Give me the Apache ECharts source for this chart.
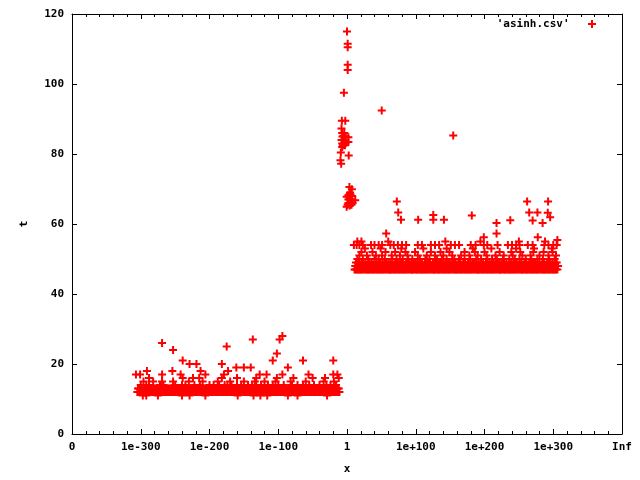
<!DOCTYPE html>
<html><head><meta charset="utf-8">
<script src="https://cdn.jsdelivr.net/npm/echarts@6/dist/echarts.min.js"></script>
<style>html,body{margin:0;padding:0;background:#fff}#c{width:640px;height:480px}</style>
</head><body><div id="c"></div>
<script>
// x tick labels (one labelled step = 100 axis-position units)
const xTickLabels = ['0','1e-300','1e-200','1e-100','1','1e+100','1e+200','1e+300','Inf'];
const seriesName = "'asinh.csv'";

// ---- low cluster (tiny arguments), x positions per t value ----
const lowT11 = [103,108,125,160,171,194,241,264,274,284,314,328,371];
const lowT12 = [95,96.5,98,100,102,103.5,105,107,109,111,113,114.5,116,117.5,119,121,123,125,127,128.5,130,132,134,135.5,137,139,141,143,145,146.5,148,149.5,151,153,155,157,159,160.5,162,164,166,167.5,169,171,173,175,177,178.5,180,181.5,183,185,187,189,191,192.5,194,196,198,199.5,201,203,205,207,209,210.5,212,213.5,215,217,219,221,223,224.5,226,228,230,231.5,233,235,237,239,241,242.5,244,245.5,247,249,251,253,255,256.5,258,260,262,263.5,265,267,269,271,273,274.5,276,277.5,279,281,283,285,287,288.5,290,292,294,295.5,297,299,301,303,305,306.5,308,309.5,311,313,315,317,319,320.5,322,324,326,327.5,329,331,333,335,337,338.5,340,341.5,343,345,347,349,351,352.5,354,356,358,359.5,361,363,365,367,369,370.5,372,373.5,375,377,379,381,383,384.5,386,387.5,389];
const lowT13 = [96,97.5,100,101.5,104,105.5,107,109,111,112.5,114,116,118,119.5,121,123,125,127,129,130.5,132,134,136,137.5,139,141,143,144.5,146,148,150,151.5,153,155,157,159,161,162.5,164,166,168,169.5,171,173,175,176.5,178,180,182,183.5,185,187,189,191,193,194.5,196,198,200,201.5,203,205,207,208.5,210,212,214,215.5,217,219,221,223,225,226.5,228,230,232,233.5,235,237,239,240.5,242,244,246,247.5,249,251,253,255,257,258.5,260,262,264,265.5,267,269,271,272.5,274,276,278,279.5,281,283,285,287,289,290.5,292,294,296,297.5,299,301,303,304.5,306,308,310,311.5,313,315,317,319,321,322.5,324,326,328,329.5,331,333,335,336.5,338,340,342,343.5,345,347,349,351,353,354.5,356,358,360,361.5,363,365,367,368.5,370,372,374,375.5,377,379,381,383,385,386.5,388];
const lowT14 = [100,108,112,128,133,150,160,165,178,186,200,206,214,222,226,232,240,246,256,262,268,275,285,292,300,308,320,328,336,345,352,360,370,376,384];
const lowT15 = [104,118,131,147,170,190,212,230,250,266,280,296,318,340,366,381];
const lowT16 = [112,161,176,185,218,240,268,298,322,350,368,388];
const lowT17 = [93,99,131,158,194,221,273,283,306,344,380,386];
const lowOutliers = [[109,18],[131,26],[147,24],[146,18],[161,21],[171,20],[181,20],[187,18],[218,20],[225,25],[227,18],[239,19],[250,19],[260,19],[263,27],[292,21],[298,23],[302,27],[306,28],[314,19],[336,21],[380,21]];

// ---- arguments near 1 ----
const nearOneUpper = [[400,115],[401,111.5],[401,110.5],[401,105.5],[401,104],[395.5,97.5],[392.5,89.5],[397.5,89.5],[392,87.3],[393,86],[396,86],[393.5,85],[395,85.2],[398,85],[402,84.8],[392,84],[394,84],[397,84],[393,83],[396,83],[398,83.2],[402,83.4],[394,82.5],[397,82.5],[393,82],[391,80.4],[402.5,79.6],[390.5,78.2],[391.5,77.2]];
const nearOneLower = [[403.5,70.6],[407,69.9],[404.5,69],[402,68.2],[405,68.5],[407.5,68],[399.5,67.8],[402,67],[404,67.2],[406,67],[412,66.8],[402,66],[405,66.2],[408,66],[401,65.5],[404,65.3],[406.5,65.5],[399.5,64.9]];

// ---- high cluster (large arguments), x positions per t value ----
const highT47 = [411,412.5,414,416,418,419.5,421,423,425,427,429,430.5,432,434,436,437.5,439,441,443,444.5,446,448,450,451.5,453,455,457,459,461,462.5,464,466,468,469.5,471,473,475,476.5,478,480,482,483.5,485,487,489,491,493,494.5,496,498,500,501.5,503,505,507,508.5,510,512,514,515.5,517,519,521,523,525,526.5,528,530,532,533.5,535,537,539,540.5,542,544,546,547.5,549,551,553,555,557,558.5,560,562,564,565.5,567,569,571,572.5,574,576,578,579.5,581,583,585,587,589,590.5,592,594,596,597.5,599,601,603,604.5,606,608,610,611.5,613,615,617,619,621,622.5,624,626,628,629.5,631,633,635,636.5,638,640,642,643.5,645,647,649,651,653,654.5,656,658,660,661.5,663,665,667,668.5,670,672,674,675.5,677,679,681,683,685,686.5,688,690,692,693.5,695,697,699,700.5,702,704,706];
const highT48 = [412,414,416,417.5,419,421,423,425,427,428.5,430,432,434,435.5,437,439,441,442.5,444,446,448,450,452,453.5,455,457,459,460.5,462,464,466,467.5,469,471,473,475,477,478.5,480,482,484,485.5,487,489,491,492.5,494,496,498,499.5,501,503,505,507,509,510.5,512,514,516,517.5,519,521,523,524.5,526,528,530,531.5,533,535,537,539,541,542.5,544,546,548,549.5,551,553,555,556.5,558,560,562,563.5,565,567,569,571,573,574.5,576,578,580,581.5,583,585,587,588.5,590,592,594,595.5,597,599,601,603,605,606.5,608,610,612,613.5,615,617,619,620.5,622,624,626,627.5,629,631,633,635,637,638.5,640,642,644,645.5,647,649,651,652.5,654,656,658,659.5,661,663,665,667,669,670.5,672,674,676,677.5,679,681,683,684.5,686,688,690,691.5,693,695,697,699,701,702.5,704,706,707];
const highT49 = [413,416,418,421,424,427,431,433,436,440,443,447,449,452,455,457,460,463,466,470,474,477,479,482,486,488,491,494,496,499,502,505,509,513,516,518,521,525,528,531,534,536,540,543,547,550,553,555,558,562,565,569,572,576,580,583,585,588,591,594,598,602,604,607,610,613,616,620,622,625,629,632,636,639,642,645,647,651,654,658,661,665,667,669,672,674,677,680,684,687,691,694,696,699,703,705];
const highT50 = [415,423,431,440,446,455,466,472,481,489,495,506,514,520,531,538,545,556,563,571,579,588,595,604,611,618,627,636,644,651,660,668,677,685,694,702];
const highT51 = [418,429,442,451,465,477,488,503,516,528,540,553,566,578,590,603,616,628,641,655,667,680,693,704];
const highT52 = [421,437,456,470,485,499,522,536,549,571,586,600,622,639,652,671,686,699];
const highT53 = [426,449,479,511,545,583,610,646,672,698];
const highT54 = [410,414,418,423,435,440,446,451,463,468,474,480,486,503,509,522,528,534,551,557,563,580,587,599,604,619,634,640,646,651,663,670,687,693,700,705];
const highT55 = [415,421,460,543,594,650,688];
const highOutliers = [[450.5,92.4],[554.5,85.3],[472.5,66.4],[474.5,63.3],[478.5,61.2],[503.5,61.2],[525.5,62.6],[525.5,61.2],[541,61.2],[457,57.3],[581.5,62.4],[599,56.2],[617.5,60.3],[617.5,57.3],[637.5,61.1],[662,66.4],[665,63.3],[677,63.3],[692.5,66.4],[692,63.2],[670,61],[684.5,60.3],[695.5,61.9],[677.5,56.2],[706,55.4]];

function row(xs, t) { return xs.map(function (x) { return [x, t]; }); }

const points = [].concat(
  row(lowT11, 11), row(lowT12, 12), row(lowT13, 13), row(lowT14, 14),
  row(lowT15, 15), row(lowT16, 16), row(lowT17, 17), lowOutliers,
  nearOneUpper, nearOneLower,
  row(highT47, 47), row(highT48, 48), row(highT49, 49), row(highT50, 50),
  row(highT51, 51), row(highT52, 52), row(highT53, 53), row(highT54, 54),
  row(highT55, 55), highOutliers
);

const FONT = 'DejaVu Sans Mono';
const txt = { fontFamily: FONT, fontWeight: 'bold', fontSize: 11, color: '#000' };
const cross = 'path://M3,0H5V3H8V5H5V8H3V5H0V3H3Z';
const black = { color: '#000', width: 1 };

function xAx(pos, main) {
  return {
    type: 'value', min: 0, max: 800, interval: 100, position: pos,
    axisLine: { show: true, onZero: false, lineStyle: black },
    axisTick: { show: true, inside: true, length: 5, lineStyle: black },
    minorTick: { show: true, splitNumber: 5, length: 3, lineStyle: black },
    splitLine: { show: false }, minorSplitLine: { show: false },
    axisLabel: main ? Object.assign({ margin: 8, formatter: function (v) { return xTickLabels[Math.round(v / 100)]; } }, txt) : { show: false },
    name: main ? 'x' : '', nameLocation: 'middle', nameGap: 30, nameTextStyle: txt
  };
}
function yAx(pos, main) {
  return {
    type: 'value', min: 0, max: 120, interval: 20, position: pos,
    axisLine: { show: true, onZero: false, lineStyle: black },
    axisTick: { show: true, inside: true, length: 5, lineStyle: black },
    splitLine: { show: false },
    axisLabel: main ? Object.assign({ margin: 8 }, txt) : { show: false },
    name: main ? 't' : '', nameLocation: 'middle', nameGap: 42, nameTextStyle: txt
  };
}

const chart = echarts.init(document.getElementById('c'), null, { renderer: 'canvas' });
chart.setOption({
  animation: false,
  backgroundColor: '#fff',
  grid: { left: 72, right: 18, top: 14, bottom: 42, containLabel: false },
  legend: {
    right: 39, top: 13, itemWidth: 35, itemHeight: 8, align: 'right',
    textStyle: Object.assign({ lineHeight: 12 }, txt),
    data: [{ name: seriesName, icon: cross, itemStyle: { color: '#ff0000', opacity: 1 } }],
    selectedMode: false
  },
  xAxis: [xAx('bottom', true), xAx('top', false)],
  yAxis: [yAx('left', true), yAx('right', false)],
  series: [{
    type: 'scatter', name: seriesName, data: points, xAxisIndex: 0, yAxisIndex: 0,
    symbol: cross, symbolSize: 8, itemStyle: { color: '#ff0000', opacity: 1 }, silent: true
  }]
});
</script></body></html>
